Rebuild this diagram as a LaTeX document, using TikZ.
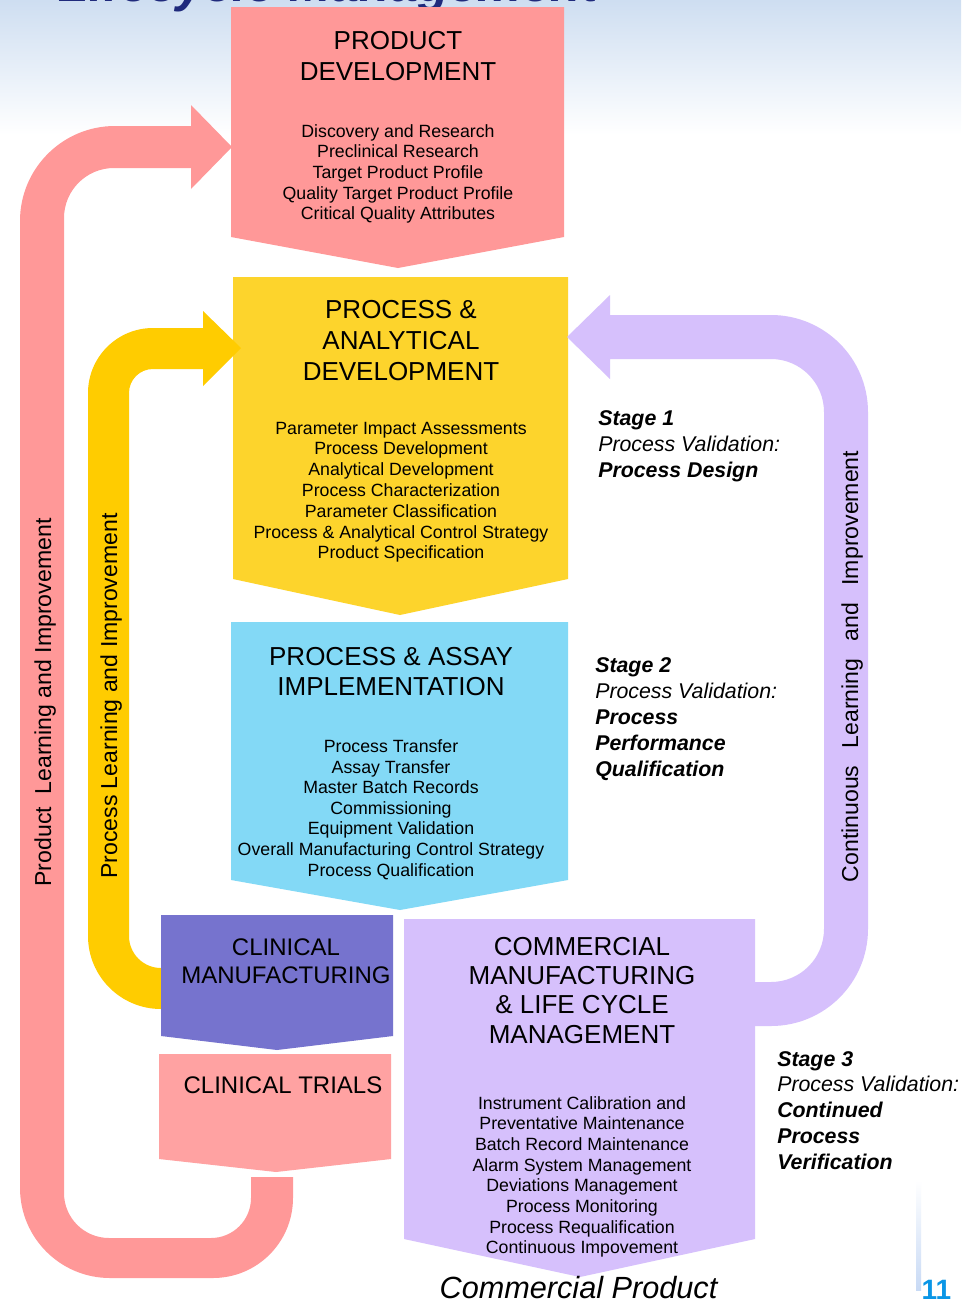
\documentclass[tikz,border=0pt]{standalone}
\usepackage{fontspec}
\setmainfont{Liberation Sans}
\newcommand\clines[1]{\begin{tabular}[t]{@{}c@{}}#1\end{tabular}}
\newcommand\llines[1]{\begin{tabular}[t]{@{}l@{}}#1\end{tabular}}
\newcommand\fs[2]{\fontsize{#1}{#2}\selectfont}
\definecolor{bgblue}{RGB}{206,222,241}
\definecolor{pdpink}{RGB}{255,152,152}
\definecolor{pinkband}{RGB}{255,152,152}
\definecolor{padyellow}{RGB}{253,212,44}
\definecolor{yelband}{RGB}{255,204,0}
\definecolor{paicyan}{RGB}{131,217,246}
\definecolor{cmpurple}{RGB}{118,115,206}
\definecolor{ctpink}{RGB}{255,162,162}
\definecolor{lav}{RGB}{214,192,252}
\definecolor{navy}{RGB}{31,42,124}
\definecolor{pgblue}{RGB}{10,150,230}
\definecolor{faint}{RGB}{200,218,245}
\begin{document}
\begin{tikzpicture}[x=0.75pt,y=-0.75pt,
  txt/.style={anchor=base,inner sep=0pt,text=black},
  boxtitle/.style={txt,font=\fs{19.5}{23.25}},
  boxlist/.style={txt,font=\fs{13.3}{15.56}},
  stage/.style={anchor=base west,inner sep=0pt,text=black,font=\fs{16}{19.4}},
  looplabel/.style={txt,rotate=90,font=\fs{17.3}{20}}]
\useasboundingbox (0,0) rectangle (961,1303);
% background
\fill[white] (0,0) rectangle (961,1303);
\shade[top color=bgblue,bottom color=white] (0,0) rectangle (961,135);
\shade[top color=white,bottom color=faint] (916,1180) rectangle (921,1290);
% partially visible slide title
\node[anchor=base west,inner sep=0pt,text=navy,font=\fs{38}{40}\bfseries\itshape] (slidetitle) at (58,1) {Lifecycle Management};
% stage boxes
\fill[pdpink] (231,7) -- (564,7) -- (564,237) -- (398,268) -- (231,237) -- cycle;
\fill[padyellow] (233,277) -- (568,277) -- (568,579) -- (400,615) -- (233,579) -- cycle;
\fill[paicyan] (231,622) -- (568,622) -- (568,880) -- (400,910) -- (231,880) -- cycle;
\fill[lav] (404,919) -- (755,919) -- (755,1239) -- (580,1277) -- (404,1239) -- cycle;
% product learning loop
\fill[pinkband] (191,105) -- (232,147) -- (191,189) -- (191,168) -- (114,168)
  arc[start angle=90,end angle=180,radius=37.5pt] -- (64,1193)
  arc[start angle=180,end angle=270,radius=33.75pt] -- (211,1238)
  arc[start angle=270,end angle=360,radius=30pt] -- (251,1177) -- (293,1177) -- (293,1198)
  arc[start angle=0,end angle=-90,radius=60pt] -- (110,1278)
  arc[start angle=270,end angle=180,radius=67.5pt] -- (20,221)
  arc[start angle=180,end angle=90,radius=71.25pt] -- (191,126) -- cycle;
% process learning loop
\fill[yelband] (203,311) -- (241,348) -- (203,386) -- (203,369) -- (153,369)
  arc[start angle=90,end angle=180,radius=18pt] -- (129,936)
  arc[start angle=180,end angle=270,radius=24pt] -- (166,968) -- (166,1009) -- (161,1009)
  arc[start angle=270,end angle=180,radius=54.75pt] -- (88,393)
  arc[start angle=180,end angle=90,radius=48.75pt] -- (203,328) -- cycle;
% continuous learning loop
\fill[lav] (610,295) -- (567,337) -- (610,379) -- (610,359) -- (771,359)
  arc[start angle=90,end angle=0,radius=39.75pt] -- (824,929)
  arc[start angle=0,end angle=-90,radius=39.75pt] -- (750,982) -- (750,1026) -- (771,1026)
  arc[start angle=-90,end angle=0,radius=72.75pt] -- (868,412)
  arc[start angle=0,end angle=90,radius=72.75pt] -- (610,315) -- cycle;
% clinical boxes
\fill[cmpurple] (161,915) -- (393,915) -- (393,1036) -- (277,1050) -- (161,1036) -- cycle;
\fill[ctpink] (159,1054) -- (391,1054) -- (391,1159) -- (276,1172) -- (159,1159) -- cycle;
% box texts
\node[boxtitle] (pdT) at (398,49) {\clines{PRODUCT\\DEVELOPMENT}};
\node[boxlist] (pdL) at (398,137) {\clines{Discovery and Research\\Preclinical Research\\Target Product Profile\\Quality Target Product Profile\\Critical Quality Attributes}};
\node[boxtitle,font=\fs{19.5}{23.6}] (padT) at (401,318) {\clines{PROCESS \&\\ANALYTICAL\\DEVELOPMENT}};
\node[boxlist,font=\fs{13.3}{15.62}] (padL) at (401,434) {\clines{Parameter Impact Assessments\\Process Development\\Analytical Development\\Process Characterization\\Parameter Classification\\Process \& Analytical Control Strategy\\Product Specification}};
\node[boxtitle,font=\fs{19.5}{22.5}] (paiT) at (391,665) {\clines{PROCESS \& ASSAY\\IMPLEMENTATION}};
\node[boxlist,font=\fs{13.3}{15.42}] (paiL) at (391,752.7) {\clines{Process Transfer\\Assay Transfer\\Master Batch Records\\Commissioning\\Equipment Validation\\Overall Manufacturing Control Strategy\\Process Qualification}};
\node[boxtitle,font=\fs{18}{21}] (cmT) at (286,955) {\clines{CLINICAL\\MANUFACTURING}};
\node[boxtitle,font=\fs{18}{21}] (ctT) at (283,1093) {CLINICAL TRIALS};
\node[boxtitle,font=\fs{19.5}{22}] (comT) at (582,955) {\clines{COMMERCIAL\\MANUFACTURING\\\& LIFE CYCLE\\MANAGEMENT}};
\node[boxlist,font=\fs{13.3}{15.53}] (comL) at (582,1109) {\clines{Instrument Calibration and\\Preventative Maintenance\\Batch Record Maintenance\\Alarm System Management\\Deviations Management\\Process Monitoring\\Process Requalification\\Continuous Impovement}};
\node[txt,font=\fs{23}{26}\itshape] (product) at (578.5,1298) {Commercial Product};
% loop labels
\node[looplabel] (prodLbl) at (51,702.5) {Product~~Learning and Improvement};
\node[looplabel] (procLbl) at (117,696) {Process Learning and Improvement};
\node[looplabel] (contLbl) at (858,666.5) {Continuous\hspace{0.75em}Learning\hspace{0.75em}and\hspace{0.75em}Improvement};
% stage notes
\node[stage] (st1) at (598,425.7) {\llines{\textbf{\textit{Stage 1}}\\\textit{Process Validation:}\\\textbf{\textit{Process Design}}}};
\node[stage] (st2) at (595,672.7) {\llines{\textbf{\textit{Stage 2}}\\\textit{Process Validation:}\\\textbf{\textit{Process}}\\\textbf{\textit{Performance}}\\\textbf{\textit{Qualification}}}};
\node[stage] (st3) at (777,1066) {\llines{\textbf{\textit{Stage 3}}\\\textit{Process Validation:}\\\textbf{\textit{Continued}}\\\textbf{\textit{Process}}\\\textbf{\textit{Verification}}}};
% page number
\node[txt,text=pgblue,font=\fs{21}{24}\bfseries] (pageno) at (936.5,1299) {11};
\end{tikzpicture}
\end{document}
